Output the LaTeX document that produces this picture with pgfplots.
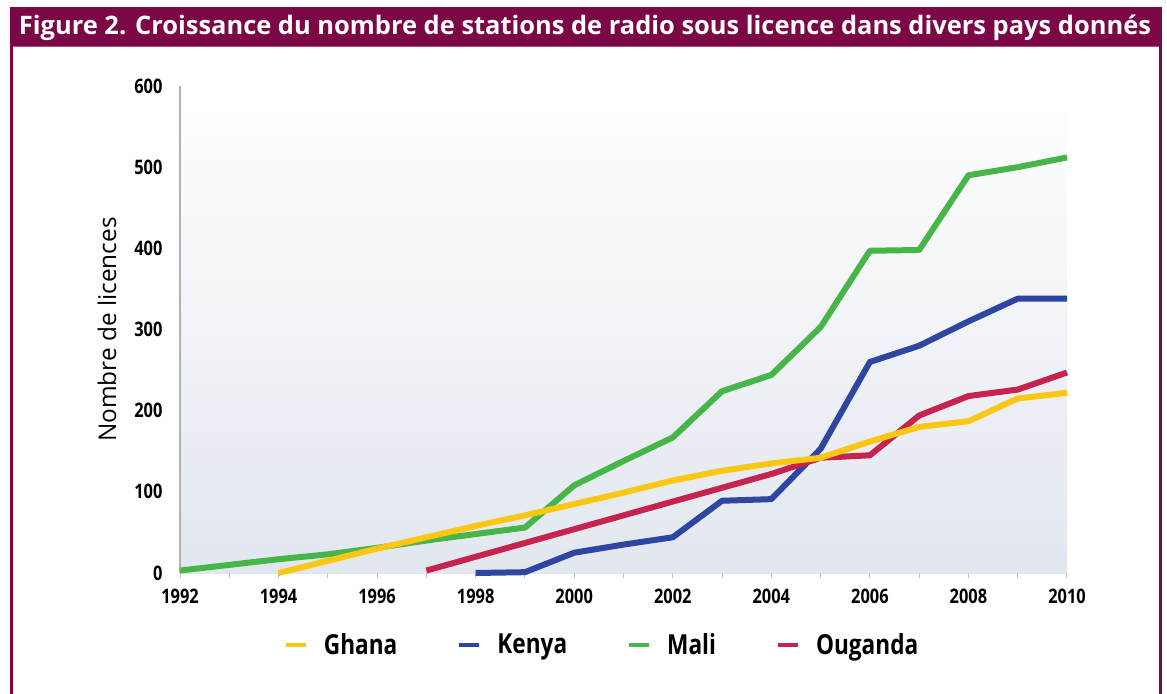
\documentclass[border=0pt]{standalone}
\usepackage{pgfplots}
\pgfplotsset{compat=1.18}
\usepackage{pgfplotstable}
\usepackage{fontspec}
\setmainfont{Open Sans}
\newfontfamily\narrowfont{Open Sans}[FakeStretch=0.82]
\definecolor{maroon}{HTML}{7B0746}
\definecolor{cgreen}{HTML}{46B649}
\definecolor{cblue}{HTML}{2E45A2}
\definecolor{cyellow}{HTML}{FCC614}
\definecolor{cred}{HTML}{C6244E}
\definecolor{bgbot}{HTML}{E2E7EF}

\pgfplotstableread{
year val
1994 0
1995 15
1996 30
1997 44
1998 58
1999 71
2000 85
2001 99
2002 114
2003 126
2004 135
2005 142
2006 162
2007 180
2008 187
2009 215
2010 222
}\ghana
\pgfplotstableread{
year val
1998 0
1999 1
2000 25
2001 35
2002 44
2003 89
2004 91
2005 153
2006 260
2007 280
2008 310
2009 338
2010 338
}\kenya
\pgfplotstableread{
year val
1992 3
1993 10
1994 17
1995 23
1996 31
1997 40
1998 48
1999 56
2000 108
2001 138
2002 167
2003 224
2004 244
2005 303
2006 397
2007 398
2008 490
2009 500
2010 512
}\mali
\pgfplotstableread{
year val
1997 3
1998 20
1999 37
2000 54
2001 71
2002 88
2003 105
2004 122
2005 142
2006 145
2007 194
2008 218
2009 226
2010 247
}\ouganda

\begin{document}
\begin{tikzpicture}
\useasboundingbox (0,0) rectangle (583.5pt,-347pt);
\begin{scope}[x=0.5pt,y=-0.5pt]
\fill[maroon] (11,7) rectangle (1161.5,47);
\draw[maroon!70!white, line width=0.5pt] (12,46.5) -- (1160,46.5);
\draw[maroon, line width=1.5pt] (11.5,7) -- (11.5,760);
\draw[maroon, line width=1.5pt] (1160.5,7) -- (1160.5,760);
\node[text=white, font=\bfseries, inner sep=0pt] at (585,27.5)
  {\resizebox{566pt}{!}{Figure 2. Croissance du nombre de stations de radio sous licence dans divers pays donnés}};
\end{scope}
\begin{axis}[
  at={(90pt,-286.5pt)}, anchor=south west,
  scale only axis, width=443.5pt, height=243.5pt,
  xmin=1992, xmax=2010, ymin=0, ymax=600,
  clip=false,
  axis lines=left,
  axis line style={-},
  x axis line style={draw=none},
  y axis line style={draw=black!30, line width=0.6pt},
  axis background/.style={top color=white, bottom color=bgbot},
  xtick={1992,1994,...,2010},
  minor xtick={1993,1995,...,2009},
  ytick={0,100,...,600},
  xtick align=outside,
  major tick length=2.5pt, minor tick length=2.5pt,
  x tick style={draw=black!25, line width=0.5pt},
  minor x tick style={draw=black!25, line width=0.5pt},
  y tick style={draw=none},
  /pgf/number format/1000 sep={},
  /pgf/number format/assume math mode=true,
  ticklabel style={font=\narrowfont\bfseries\fontsize{10}{12}\selectfont},
  xticklabel style={yshift=-2pt},
  yticklabel style={xshift=-4pt},
  ylabel={Nombre de licences},
  ylabel style={at={(axis description cs:-0.0823,0.5)}, anchor=center, font=\fontsize{12.2}{14}\selectfont},
  legend columns=4,
  legend style={at={(axis description cs:0.477,-0.148)}, anchor=center,
    draw=none, fill=none,
    font=\narrowfont\bfseries\fontsize{13.8}{16}\selectfont,
    /tikz/every odd column/.append style={column sep=6pt},
    /tikz/every even column/.append style={column sep=28pt}},
  legend image code/.code={\draw[line width=2pt] (0pt,0pt) -- (10pt,0pt);},
  every axis plot/.append style={line width=3pt, line join=round},
]
\addlegendimage{cyellow}\addlegendentry{Ghana}
\addlegendimage{cblue}\addlegendentry{Kenya}
\addlegendimage{cgreen}\addlegendentry{Mali}
\addlegendimage{cred}\addlegendentry{Ouganda}
\addplot[cgreen, forget plot] table[x=year,y=val] {\mali};
\addplot[cblue, forget plot] table[x=year,y=val] {\kenya};
\addplot[cred, forget plot] table[x=year,y=val] {\ouganda};
\addplot[cyellow, forget plot] table[x=year,y=val] {\ghana};
\end{axis}
\end{tikzpicture}
\end{document}
